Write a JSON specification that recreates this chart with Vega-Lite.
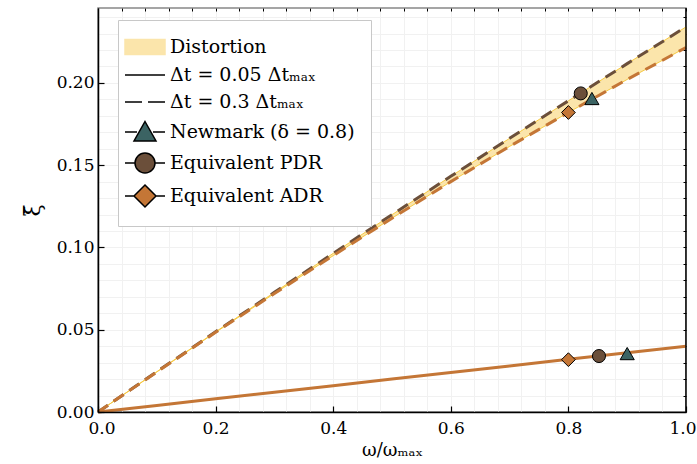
{
  "$schema": "https://vega.github.io/schema/vega-lite/v6.json",
  "width": 588,
  "height": 404,
  "autosize": "none",
  "padding": {"left": 98, "top": 8, "right": 11, "bottom": 52},
  "config": {
    "font": "DejaVu Serif",
    "view": {"stroke": "#888", "strokeWidth": 1.5},
    "axis": {"labelFont": "DejaVu Serif", "titleFont": "DejaVu Serif", "labelColor": "black", "titleColor": "black", "titleFontWeight": "normal", "labelFlush": false},
    "legend": {"labelFont": "DejaVu Serif"}
  },
  "datasets": {
    "curves": [
      {"x": 0.0, "up": 0.0, "lo": 0.0, "s": 0.0},
      {"x": 0.1, "up": 0.0245, "lo": 0.0243, "s": 0.004},
      {"x": 0.2, "up": 0.0487, "lo": 0.0484, "s": 0.008},
      {"x": 0.3, "up": 0.0727, "lo": 0.0720, "s": 0.012},
      {"x": 0.4, "up": 0.0964, "lo": 0.0950, "s": 0.016},
      {"x": 0.5, "up": 0.1199, "lo": 0.1178, "s": 0.020},
      {"x": 0.6, "up": 0.1432, "lo": 0.1400, "s": 0.024},
      {"x": 0.7, "up": 0.1663, "lo": 0.1614, "s": 0.028},
      {"x": 0.8, "up": 0.1891, "lo": 0.1820, "s": 0.032},
      {"x": 0.9, "up": 0.2117, "lo": 0.2021, "s": 0.036},
      {"x": 1.0, "up": 0.2340, "lo": 0.2215, "s": 0.040}
    ],
    "markers": [
      {"method": "Newmark (δ = 0.8)", "x": 0.84, "y": 0.1905},
      {"method": "Newmark (δ = 0.8)", "x": 0.90, "y": 0.0355},
      {"method": "Equivalent PDR", "x": 0.821, "y": 0.1936},
      {"method": "Equivalent PDR", "x": 0.852, "y": 0.0340},
      {"method": "Equivalent ADR", "x": 0.80, "y": 0.1820},
      {"method": "Equivalent ADR", "x": 0.80, "y": 0.0318}
    ]
  },
  "resolve": {"axis": {"x": "independent", "y": "independent"}},
  "layer": [
    {
      "data": {"name": "curves"},
      "mark": {"type": "area", "fill": "#fbe5ab", "stroke": "#f6c945", "strokeWidth": 1},
      "encoding": {
        "x": {"field": "x", "type": "quantitative", "scale": {"domain": [0, 1], "nice": false, "zero": false},
          "axis": {"values": [0, 0.2, 0.4, 0.6, 0.8, 1.0], "format": ".1f", "tickSize": -6, "tickColor": "black", "tickWidth": 1.2,
            "domainColor": "black", "domainWidth": 1.5, "labelFontSize": 17, "labelPadding": 14, "grid": false,
            "labelFlush": true, "labelFlushOffset": 10,
            "title": "ω/ωₘₐₓ", "titleFontSize": 18, "titlePadding": 5, "zindex": 1}},
        "y": {"field": "up", "type": "quantitative", "scale": {"domain": [0, 0.2455], "nice": false},
          "axis": {"values": [0, 0.05, 0.1, 0.15, 0.2], "format": ".2f", "tickSize": -6, "tickColor": "black", "tickWidth": 1.2,
            "domainColor": "black", "domainWidth": 1.5, "labelFontSize": 17, "labelPadding": 10, "grid": false,
            "title": "ξ̄", "titleFontSize": 22, "titlePadding": 12, "zindex": 1}},
        "y2": {"field": "lo"}
      }
    },
    {
      "data": {"name": "curves"},
      "mark": {"type": "line", "stroke": "#6b4f3a", "strokeWidth": 3, "strokeDash": [12, 7]},
      "encoding": {
        "x": {"field": "x", "type": "quantitative",
          "axis": {"values": [0, 0.04, 0.08, 0.12, 0.16, 0.2, 0.24, 0.28, 0.32, 0.36, 0.4, 0.44, 0.48, 0.52, 0.56, 0.6, 0.64, 0.68, 0.72, 0.76, 0.8, 0.84, 0.88, 0.92, 0.96, 1.0],
            "labels": false, "domain": false, "tickSize": -3, "tickColor": "black", "grid": true, "gridColor": "#f1f1f1", "gridWidth": 1, "title": null}},
        "y": {"field": "up", "type": "quantitative",
          "axis": {"values": [0, 0.01, 0.02, 0.03, 0.04, 0.05, 0.06, 0.07, 0.08, 0.09, 0.1, 0.11, 0.12, 0.13, 0.14, 0.15, 0.16, 0.17, 0.18, 0.19, 0.2, 0.21, 0.22, 0.23, 0.24],
            "labels": false, "domain": false, "tickSize": -3, "tickColor": "black", "grid": true, "gridColor": "#f1f1f1", "gridWidth": 1, "title": null}}
      }
    },
    {
      "data": {"name": "curves"},
      "mark": {"type": "line", "stroke": "#c47636", "strokeWidth": 3, "strokeDash": [12, 7]},
      "encoding": {
        "x": {"field": "x", "type": "quantitative", "axis": null},
        "y": {"field": "lo", "type": "quantitative", "axis": null}
      }
    },
    {
      "data": {"name": "curves"},
      "mark": {"type": "line", "stroke": "#c47636", "strokeWidth": 3},
      "encoding": {
        "x": {"field": "x", "type": "quantitative", "axis": null},
        "y": {"field": "s", "type": "quantitative", "axis": null}
      }
    },
    {
      "data": {"name": "markers"},
      "transform": [{"filter": "datum.method === 'Newmark (δ = 0.8)'"}],
      "mark": {"type": "point", "shape": "triangle-up", "filled": true, "fill": "#3b6363", "stroke": "black", "strokeWidth": 1, "size": 200, "opacity": 1},
      "encoding": {
        "x": {"field": "x", "type": "quantitative", "axis": null},
        "y": {"field": "y", "type": "quantitative", "axis": null}
      }
    },
    {
      "data": {"name": "markers"},
      "transform": [{"filter": "datum.method === 'Equivalent PDR'"}],
      "mark": {"type": "point", "shape": "circle", "filled": true, "fill": "#6b4f3a", "stroke": "black", "strokeWidth": 1, "size": 170, "opacity": 1},
      "encoding": {
        "x": {"field": "x", "type": "quantitative", "axis": null},
        "y": {"field": "y", "type": "quantitative", "axis": null}
      }
    },
    {
      "data": {"name": "markers"},
      "transform": [{"filter": "datum.method === 'Equivalent ADR'"}],
      "mark": {"type": "point", "shape": "diamond", "filled": true, "fill": "#c47636", "stroke": "black", "strokeWidth": 1, "size": 190, "opacity": 1},
      "encoding": {
        "x": {"field": "x", "type": "quantitative", "axis": null},
        "y": {"field": "y", "type": "quantitative", "axis": null}
      }
    },
    {
      "data": {"values": [{"v": 1}]},
      "mark": {"type": "rule", "stroke": "black", "strokeWidth": 1.5},
      "encoding": {"x": {"datum": 1, "type": "quantitative", "axis": null}}
    },
    {
      "data": {"name": "markers"},
      "mark": {"type": "point", "opacity": 0, "filled": true},
      "encoding": {
        "x": {"field": "x", "type": "quantitative", "axis": null},
        "y": {"field": "y", "type": "quantitative", "axis": null},
        "shape": {"field": "method", "type": "nominal",
          "scale": {"domain": ["Distortion", "Δt = 0.05 Δtₘₐₓ", "Δt = 0.3 Δtₘₐₓ", "Newmark (δ = 0.8)", "Equivalent PDR", "Equivalent ADR"],
            "range": ["M-2,-0.75H2V0.75H-2Z", "M-2,0H2", "M-2,0H-0.3M0.3,0H2", "M-2,0H-0.8M0.8,0H2M0,-1.05L1.1,0.9H-1.1Z", "M-2,0H-1M1,0H2M-1,0A1,1,0,1,0,1,0A1,1,0,1,0,-1,0Z", "M-2,0H-1.1M1.1,0H2M0,-1.1L1.1,0L0,1.1L-1.1,0Z"]},
          "legend": {"orient": "none", "legendX": 20, "legendY": 12, "title": null, "padding": 16, "rowPadding": 6,
            "symbolSize": 400, "symbolOpacity": 1, "symbolStrokeWidth": 1.5, "labelOffset": 14, "labelFontSize": 19, "labelLimit": 400, "labelColor": "black",
            "labelFont": "DejaVu Serif",
            "strokeColor": "#c8c8c8", "fillColor": "white", "cornerRadius": 0}},
        "fill": {"field": "method", "type": "nominal",
          "scale": {"domain": ["Distortion", "Δt = 0.05 Δtₘₐₓ", "Δt = 0.3 Δtₘₐₓ", "Newmark (δ = 0.8)", "Equivalent PDR", "Equivalent ADR"],
            "range": ["#fbe5ab", "transparent", "transparent", "#3b6363", "#6b4f3a", "#c47636"]}},
        "stroke": {"field": "method", "type": "nominal",
          "scale": {"domain": ["Distortion", "Δt = 0.05 Δtₘₐₓ", "Δt = 0.3 Δtₘₐₓ", "Newmark (δ = 0.8)", "Equivalent PDR", "Equivalent ADR"],
            "range": ["#fbe5ab", "black", "black", "black", "black", "black"]}}
      }
    }
  ]
}
